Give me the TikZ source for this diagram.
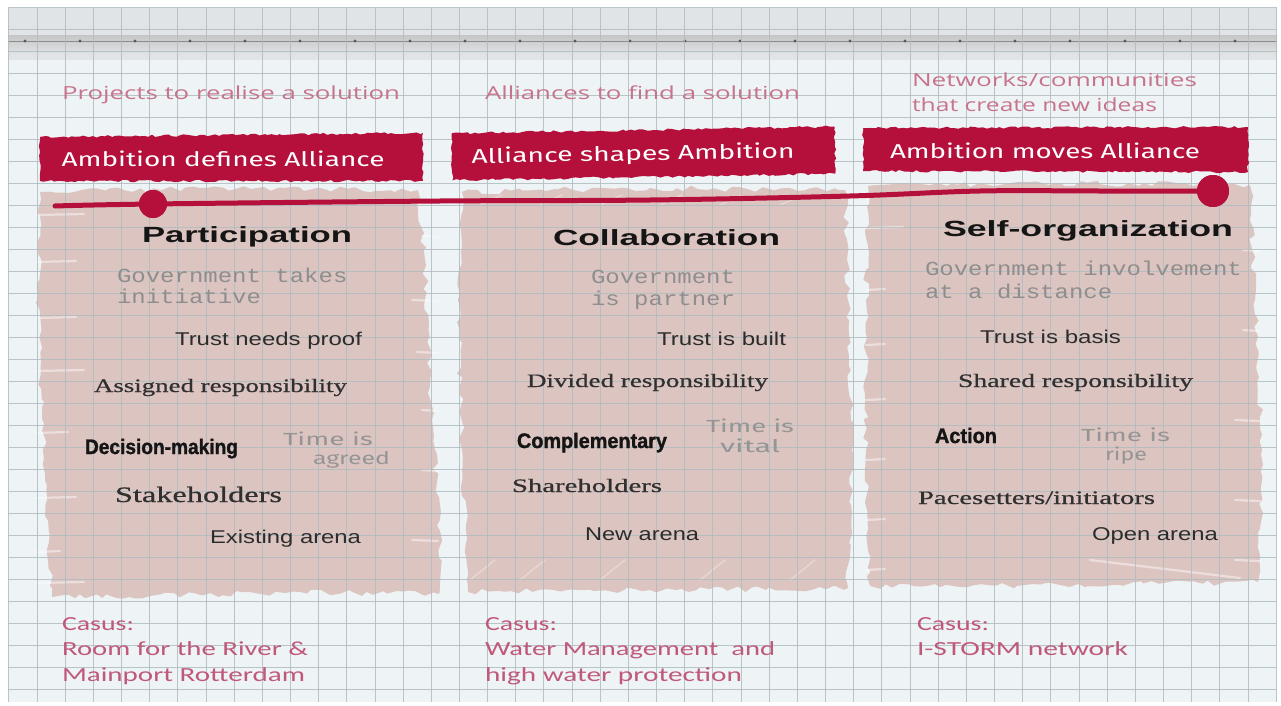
\documentclass[tikz,border=0pt]{standalone}
\usepackage{fontspec}
\usepackage{graphicx}
\usetikzlibrary{decorations.pathmorphing}
\setmainfont{Liberation Serif}
\newfontfamily\lsans{Liberation Sans}
\newfontfamily\lserif[FakeBold=0.6]{Liberation Serif}
\newfontfamily\lmono[FakeStretch=1.2]{Liberation Mono}
\newfontfamily\condfont[FakeBold=1.4]{Liberation Sans}
\newfontfamily\hdrfont{Open Sans}
\newfontfamily\casefont{Carlito}
\newfontfamily\bannerfont{Fira Sans}
\newfontfamily\handfont{Fira Sans}

\definecolor{paper}{HTML}{EEF3F5}
\definecolor{gridc}{HTML}{B0BCC1}
\definecolor{bandc}{HTML}{E0E4E6}
\definecolor{patch}{HTML}{DCC4C0}
\definecolor{crimson}{HTML}{B5103C}
\definecolor{hdrrose}{HTML}{C8738C}
\definecolor{caserose}{HTML}{C0587A}
\definecolor{monogray}{HTML}{8E8E8E}
\definecolor{handgray}{HTML}{959595}
\definecolor{ink}{HTML}{151515}
\definecolor{serifink}{HTML}{303030}

% stretch a text horizontally to a given width (in pt)
\newlength\fitlen
\newcommand\fitto[2]{\settowidth\fitlen{#2}\pgfmathsetmacro\fitsx{#1/\fitlen}\scalebox{\fitsx}[1]{#2}}

\tikzset{
  txt/.style={anchor=base west, inner sep=0pt, outer sep=0pt},
  hdr/.style={txt, text=hdrrose, font=\hdrfont\fontsize{18}{20}\selectfont},
  casus/.style={txt, text=caserose, font=\casefont\fontsize{20}{22}\selectfont},
  title/.style={txt, text=ink, font=\lsans\bfseries\fontsize{22}{24}\selectfont},
  gov/.style={txt, text=monogray, font=\lmono\fontsize{20}{22}\selectfont},
  trust/.style={txt, text=ink!90, font=\lsans\fontsize{18.5}{20}\selectfont},
  resp/.style={txt, text=serifink, font=\lserif\fontsize{19}{21}\selectfont},
  mode/.style={txt, text=ink, font=\condfont\bfseries\fontsize{21}{23}\selectfont},
  hand/.style={txt, text=handgray, font=\handfont\fontsize{17.5}{19}\selectfont},
  bannertxt/.style={anchor=center, inner sep=0pt, text=white, font=\bannerfont\fontsize{20}{22}\selectfont},
  banner/.style={fill=crimson, decorate, decoration={random steps, segment length=4pt, amplitude=1.2pt}},
  patchfill/.style={fill=patch, decorate, decoration={random steps, segment length=7pt, amplitude=3pt}},
  streak/.style={draw=white, opacity=0.45, line width=2.2pt, line cap=round},
  gridline/.style={draw=gridc, line width=0.9pt, opacity=0.85},
  timeline/.style={draw=crimson, line width=5pt, line cap=round},
  dot/.style={circle, fill=crimson, inner sep=0pt},
}

\begin{document}
\pgfmathsetseed{11}
\begin{tikzpicture}[x=1pt, y=-1pt]
\useasboundingbox (0,0) rectangle (1281,706);
\fill[white] (0,0) rectangle (1281,706);

% graph paper and the ruled strip on top
\fill[paper] (8,8) rectangle (1277,702);
\fill[bandc] (8,8) rectangle (1277,60);
\shade[top color=black!22, bottom color=bandc] (8,36) rectangle (1277,54);
\draw[black!45, line width=0.8pt] (8,41) -- (1277,41);
\foreach \k in {0,...,22} \fill[black!65] ({25+55*\k},41) circle (1.7);

% painted patches behind the three columns
\fill[patchfill] (40,192) -- (200,188) -- (418,190) -- (425,260) -- (432,420) -- (440,520)
  -- (438,594) -- (300,592) -- (150,596) -- (52,597) -- (45,480) -- (38,300) -- cycle;
\fill[patchfill] (462,192) -- (650,188) -- (845,190) -- (848,300) -- (852,450) -- (848,588)
  -- (650,590) -- (468,592) -- (462,450) -- (458,300) -- cycle;
\fill[patchfill] (868,186) -- (1060,183) -- (1250,185) -- (1255,300) -- (1262,450) -- (1258,582)
  -- (1060,585) -- (870,586) -- (866,450) -- (866,300) -- cycle;

% brush streaks
\foreach \y in {215,262,318,371,433,498,552,583}
  \draw[streak] (36,\y) -- ({60+mod(\y,4)*8},{\y-1});
\foreach \y in {236,300,352,410,470,540}
  \draw[streak] ({412+mod(\y,3)*5},\y) -- (438,{\y+1});
\foreach \x in {480,540,600,660,720,780}
  \draw[streak, opacity=0.3, line width=1.6pt] (\x,205) -- ({\x+22},195);
\foreach \x in {470,520,600,700,790}
  \draw[streak, opacity=0.3, line width=1.6pt] (\x,580) -- ({\x+25},560);
\foreach \y in {228,290,345,400,460,520,570}
  \draw[streak] (866,\y) -- ({885+mod(\y,5)*6},{\y-1});
\foreach \y in {250,330,420,500,560}
  \draw[streak] ({1235+mod(\y,4)*4},\y) -- (1260,{\y+1});
\draw[streak] (1090,560) -- (1240,578);

% grid
\foreach \i in {0,...,45} \draw[gridline] ({8.9+28.16*\i},8) -- ({8.9+28.16*\i},702);
\foreach \j in {0,...,31} \draw[gridline] (8,{7+22*\j}) -- (1277,{7+22*\j});

% headers
\node[hdr] (h1) at (62,100) {\fitto{338}{Projects to realise a solution}};
\node[hdr] (h2) at (485,100) {\fitto{315}{Alliances to find a solution}};
\node[hdr] (h3a) at (912,87) {\fitto{285}{Networks/communities}};
\node[hdr] (h3b) at (912,112) {\fitto{245}{that create new ideas}};

% banners
\fill[banner] (40,137) -- (423,133) -- (423,181) -- (40,181) -- cycle;
\fill[banner, rotate around={1:(643,153)}] (452,130) rectangle (835,177);
\fill[banner] (863,128) -- (1248,127) -- (1248,172) -- (863,171) -- cycle;
\node[bannertxt] (b1) at (223,159) {\fitto{323}{Ambition defines Alliance}};
\node[bannertxt, rotate=1] (b2) at (633,155) {\fitto{323}{Alliance shapes Ambition}};
\node[bannertxt] (b3) at (1045,151) {\fitto{310}{Ambition moves Alliance}};

% time line
\node[dot, minimum size=28pt] (dotA) at (153,204) {};
\node[dot, minimum size=32pt] (dotB) at (1213,191) {};
\coordinate (tl0) at (55,206);
\coordinate (tl1) at (440,201);
\coordinate (tl2) at (650,200);
\coordinate (tl3) at (850,196);
\coordinate (tl4) at (980,191);
\coordinate (tl5) at (1100,191);
\draw[timeline] plot[smooth, tension=0.6] coordinates {(tl0) (dotA.center) (tl1) (tl2) (tl3) (tl4) (tl5) (dotB.center)};
\node[dot, minimum size=28pt] at (dotA) {};
\node[dot, minimum size=32pt] at (dotB) {};

% column 1
\node[title] (t1) at (142,242) {\fitto{210}{Participation}};
\node[gov] (g1a) at (117,282) {Government takes};
\node[gov] (g1b) at (117,303) {initiative};
\node[trust] (r1) at (175,345) {\fitto{187}{Trust needs proof}};
\node[resp] (s1) at (94,392) {\fitto{253}{Assigned responsibility}};
\node[mode] (m1) at (85,454) {\fitto{153}{Decision-making}};
\node[hand] (k1a) at (283,445) {\fitto{90}{Time is}};
\node[hand] (k1b) at (313,464) {\fitto{77}{agreed}};
\node[resp, font=\lserif\fontsize{22}{24}\selectfont] (p1) at (115,502) {\fitto{167}{Stakeholders}};
\node[trust] (a1) at (210,543) {\fitto{151}{Existing arena}};

% column 2
\node[title] (t2) at (553,245) {\fitto{227}{Collaboration}};
\node[gov] (g2a) at (591,283) {Government};
\node[gov] (g2b) at (591,305) {is partner};
\node[trust] (r2) at (657,345) {\fitto{129}{Trust is built}};
\node[resp] (s2) at (527,387) {\fitto{241}{Divided responsibility}};
\node[mode] (m2) at (517,448) {\fitto{150}{Complementary}};
\node[hand] (k2a) at (706,432) {\fitto{88}{Time is}};
\node[hand] (k2b) at (720,452) {\fitto{60}{vital}};
\node[resp] (p2) at (512,492) {\fitto{150}{Shareholders}};
\node[trust] (a2) at (585,540) {\fitto{114}{New arena}};

% column 3
\node[title] (t3) at (943,236) {\fitto{290}{Self-organization}};
\node[gov] (g3a) at (925,275) {Government involvement};
\node[gov] (g3b) at (925,298) {at a distance};
\node[trust] (r3) at (980,343) {\fitto{141}{Trust is basis}};
\node[resp] (s3) at (958,387) {\fitto{235}{Shared responsibility}};
\node[mode] (m3) at (935,443) {\fitto{62}{Action}};
\node[hand] (k3a) at (1081,441) {\fitto{89}{Time is}};
\node[hand] (k3b) at (1105,460) {\fitto{42}{ripe}};
\node[resp] (p3) at (918,504) {\fitto{237}{Pacesetters/initiators}};
\node[trust] (a3) at (1092,540) {\fitto{126}{Open arena}};

% cases
\node[casus] (c1a) at (62,630) {\fitto{72}{Casus:}};
\node[casus] (c1b) at (62,655) {\fitto{246}{Room for the River \&}};
\node[casus] (c1c) at (62,681) {\fitto{243}{Mainport Rotterdam}};
\node[casus] (c2a) at (485,630) {\fitto{72}{Casus:}};
\node[casus] (c2b) at (485,655) {\fitto{290}{Water Management~ and}};
\node[casus] (c2c) at (485,681) {\fitto{257}{high water protection}};
\node[casus] (c3a) at (917,630) {\fitto{72}{Casus:}};
\node[casus] (c3b) at (917,655) {\fitto{211}{I-STORM network}};
\end{tikzpicture}
\end{document}
